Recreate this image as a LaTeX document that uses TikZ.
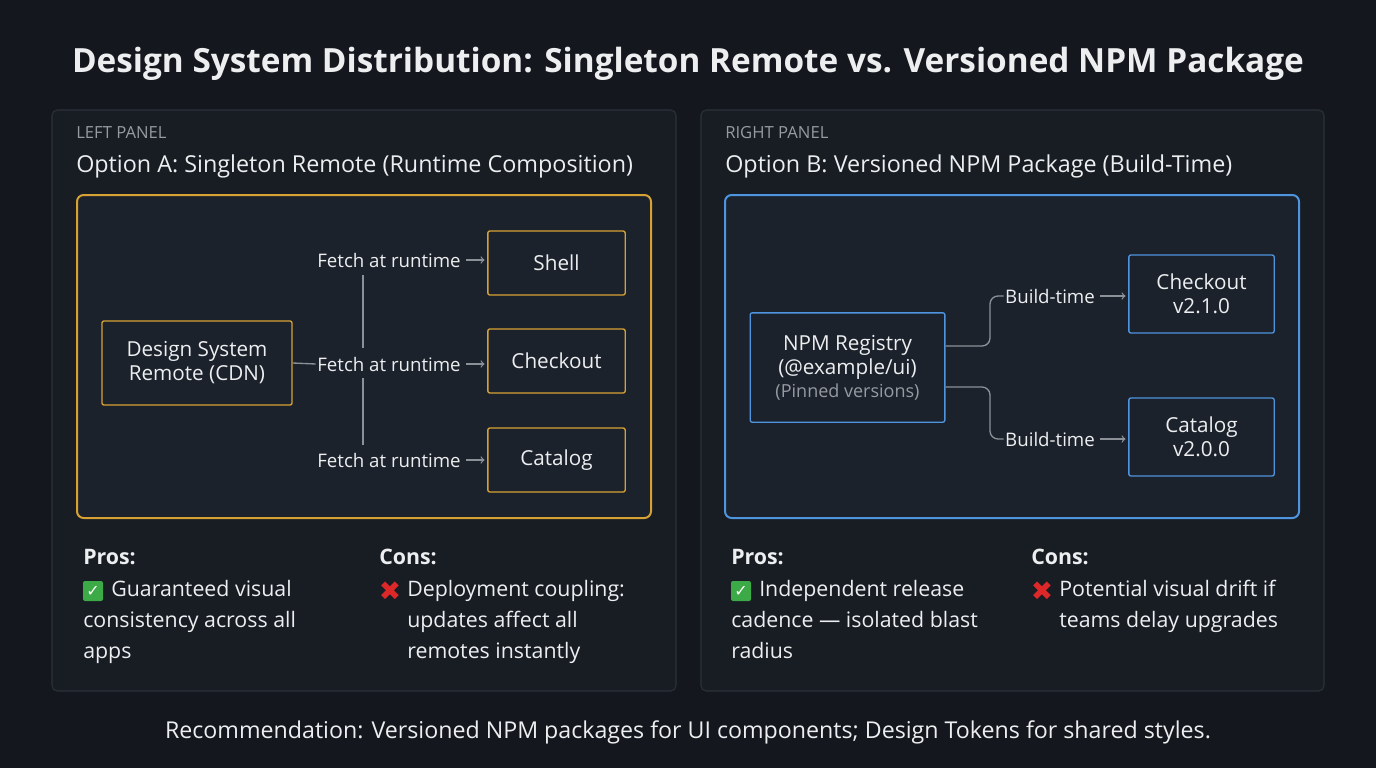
\documentclass[tikz,border=0pt]{standalone}
\usepackage{fontspec}
\setmainfont{Open Sans}
\newfontfamily\symfont{DejaVu Sans}
\usetikzlibrary{positioning}
\definecolor{bgcol}{RGB}{20,23,29}
\definecolor{panelcol}{RGB}{24,28,35}
\definecolor{panelline}{RGB}{44,49,57}
\definecolor{framefill}{RGB}{28,34,43}
\definecolor{goldcol}{RGB}{214,162,52}
\definecolor{bluecol}{RGB}{78,148,222}
\definecolor{linkcol}{RGB}{140,145,152}
\definecolor{mutedcol}{RGB}{150,155,162}
\definecolor{textcol}{RGB}{236,238,240}
\definecolor{okcol}{RGB}{60,170,70}
\definecolor{nocol}{RGB}{220,40,40}
\tikzset{
  panel/.style={draw=panelline, fill=panelcol, rounded corners=4pt, line width=0.8pt},
  goldbox/.style={draw=goldcol, line width=1pt, rounded corners=1.5pt, text=textcol, align=center, font=\fontsize{15.5}{18}\selectfont, inner sep=0pt},
  bluebox/.style={draw=bluecol, line width=1pt, rounded corners=1.5pt, text=textcol, align=center, font=\fontsize{15.5}{18}\selectfont, inner sep=0pt},
  linklabel/.style={text=textcol, font=\fontsize{14}{16}\selectfont, inner sep=1pt},
  link/.style={draw=linkcol, line width=1pt},
  arr/.style={link, ->, >=to, shorten <=3pt, shorten >=2pt},
  small/.style={text=mutedcol, font=\fontsize{12.5}{14}\selectfont, anchor=west, inner sep=0pt},
  heading/.style={text=textcol, font=\fontsize{17.5}{20}\selectfont, anchor=west, inner sep=0pt},
  prohead/.style={heading, font=\bfseries\fontsize{16}{19}\selectfont},
  body/.style={text=textcol, font=\fontsize{16}{23.2}\selectfont, anchor=north west, align=left, inner sep=0pt},
  okmark/.style={fill=okcol, rounded corners=1.5pt, minimum size=15pt, inner sep=0pt, text=white, font=\symfont\bfseries\fontsize{12}{12}\selectfont},
  nomark/.style={text=nocol, inner sep=0pt, font=\symfont\fontsize{20}{20}\selectfont},
}
\begin{document}
\begin{tikzpicture}[x=0.75pt,y=0.75pt,yscale=-1,xscale=1]
\fill[bgcol] (0,0) rectangle (1376,768);
\useasboundingbox (0,0) rectangle (1376,768);

%Title
\node[text=textcol, font=\bfseries\fontsize{25}{30}\selectfont] (title) at (688,64) {Design System Distribution: Singleton Remote vs. Versioned NPM Package};

%Panels
\draw[panel] (52,110) rectangle (676,691);
\draw[panel] (701,110) rectangle (1324,691);
\node[small] (lefttag) at (76,133) {LEFT PANEL};
\node[heading] (lefthead) at (76,166) {Option A: Singleton Remote (Runtime Composition)};
\node[small] (righttag) at (725,133) {RIGHT PANEL};
\node[heading] (righthead) at (725,166) {Option B: Versioned NPM Package (Build-Time)};

%Left diagram
\draw[goldcol, fill=framefill, line width=1.5pt, rounded corners=5pt] (77,195) rectangle (651,518);
\node[goldbox, minimum width=142.5pt, minimum height=63pt] (dsr) at (197,363) {Design System\\Remote (CDN)};
\node[goldbox, minimum width=103pt, minimum height=48pt] (shell) at (556.5,263) {Shell};
\node[goldbox, minimum width=103pt, minimum height=48pt] (checkout) at (556.5,361) {Checkout};
\node[goldbox, minimum width=103pt, minimum height=48pt] (catalog) at (556.5,460) {Catalog};
\node[linklabel] (f1) at (389,260) {Fetch at runtime};
\node[linklabel] (f2) at (389,364) {Fetch at runtime};
\node[linklabel] (f3) at (389,460) {Fetch at runtime};
\draw[link] (dsr.east) -- (f2.west);
\draw[link] (363,275) -- (363,348);
\draw[link] (363,378) -- (363,445);
\draw[arr] (f1.east) -- (shell.west |- f1.east);
\draw[arr] (f2.east) -- (checkout.west |- f2.east);
\draw[arr] (f3.east) -- (catalog.west |- f3.east);

%Right diagram
\draw[bluecol, fill=framefill, line width=1.5pt, rounded corners=5pt] (725,195) rectangle (1299,518);
\node[bluebox, minimum width=146pt, minimum height=82pt] (npm) at (847.5,367.5) {NPM Registry\\(@example/ui)\\[-1pt]{\color{mutedcol}\fontsize{13.5}{15}\selectfont(Pinned versions)}};
\node[bluebox, minimum width=109pt, minimum height=58.5pt] (cv21) at (1201.5,294) {Checkout\\v2.1.0};
\node[bluebox, minimum width=109pt, minimum height=58.5pt] (cv20) at (1201.5,437) {Catalog\\v2.0.0};
\node[linklabel] (b1) at (1050,296) {Build-time};
\node[linklabel] (b2) at (1050,439) {Build-time};
\draw[link, rounded corners=6pt] (npm.east |- 0,346) -- (990,346) -- (990,296) -- (b1.west);
\draw[link, rounded corners=6pt] (npm.east |- 0,387) -- (990,387) -- (990,439) -- (b2.west);
\draw[arr] (b1.east) -- (cv21.west |- b1.east);
\draw[arr] (b2.east) -- (cv20.west |- b2.east);

%Pros and cons
\node[prohead] (lpros) at (83,557) {Pros:};
\node[okmark] (lok) at (93,591) {✓};
\node[body] (lprostext) at (111,580) {Guaranteed visual};
\node[body] (lprostext2) at (83,611) {consistency across all\\apps};
\node[prohead] (lcons) at (379,557) {Cons:};
\node[nomark] (lno) at (390,591) {✖};
\node[body] (lconstext) at (407,580) {Deployment coupling:\\updates affect all\\remotes instantly};
\node[prohead] (rpros) at (731,557) {Pros:};
\node[okmark] (rok) at (741,591) {✓};
\node[body] (rprostext) at (759,580) {Independent release};
\node[body] (rprostext2) at (731,611) {cadence — isolated blast\\radius};
\node[prohead] (rcons) at (1031,557) {Cons:};
\node[nomark] (rno) at (1042,591) {✖};
\node[body] (rconstext) at (1059,580) {Potential visual drift if\\teams delay upgrades};

%Footer
\node[text=textcol, font=\fontsize{17.4}{20}\selectfont] (footer) at (688,732) {Recommendation: Versioned NPM packages for UI components; Design Tokens for shared styles.};
\end{tikzpicture}
\end{document}
